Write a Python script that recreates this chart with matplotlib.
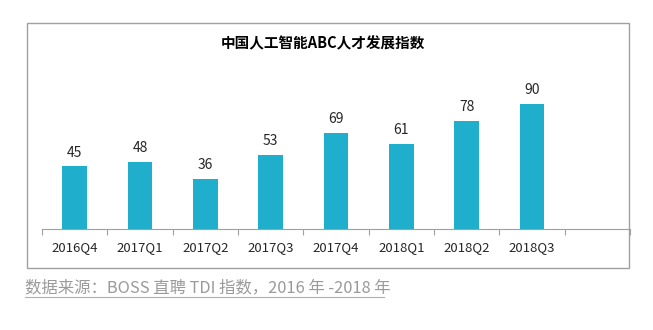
import matplotlib.pyplot as plt
from matplotlib.patches import Rectangle

plt.rcParams['font.family'] = ['Noto Sans CJK SC', 'DejaVu Sans']

quarters = ['2016Q4', '2017Q1', '2017Q2', '2017Q3', '2017Q4', '2018Q1', '2018Q2', '2018Q3']
index_values = [45, 48, 36, 53, 69, 61, 78, 90]
title = '中国人工智能ABC人才发展指数'
source = '数据来源：BOSS 直聘 TDI 指数，2016 年 -2018 年'

W, H = 653, 330
fig = plt.figure(figsize=(W / 100, H / 100), dpi=100)

# outer frame round the chart
fig.patches.append(Rectangle((27 / W, 1 - 268 / H), 602 / W, 245 / H,
                             transform=fig.transFigure, fill=False,
                             edgecolor='#a0a0a0', linewidth=1))

# 9 category slots, the last one stays empty
ax = fig.add_axes([42 / W, 1 - 229 / H, 588 / W, 139 / H])
x = list(range(len(quarters)))
ax.bar(x, index_values, width=0.38, color='#1fafcc')
for xi, v in zip(x, index_values):
    ax.annotate(str(v), (xi, v), xytext=(0, 5), textcoords='offset points',
                ha='center', va='bottom', fontsize=10, color='#262626')

ax.set_xlim(-0.5, len(quarters) + 0.5)
ax.set_ylim(0, 100)
ax.set_xticks([i - 0.5 for i in range(len(quarters) + 2)])
ax.set_xticklabels([])
ax.set_xticks(x, minor=True)
ax.set_xticklabels(quarters, minor=True, fontsize=9.5, color='#262626')
ax.tick_params(axis='x', which='major', length=4, color='#a0a0a0')
ax.tick_params(axis='x', which='minor', length=0, pad=9)
ax.set_yticks([])
for s in ['top', 'right', 'left']:
    ax.spines[s].set_visible(False)
ax.spines['bottom'].set_color('#a0a0a0')

fig.text(323 / W, 1 - 43 / H, title, ha='center', va='center',
         fontsize=10.5, fontweight='bold', color='#000000')

fig.text(25 / W, 1 - 288 / H, source, ha='left', va='center',
         fontsize=11.8, color='#9a9a9a', style='italic')
fig.add_artist(plt.Line2D([25 / W, 384 / W], [1 - 297 / H, 1 - 297 / H],
                          transform=fig.transFigure, color='#b0b0b0', linewidth=0.8))

fig.savefig('out.png', dpi=100)
